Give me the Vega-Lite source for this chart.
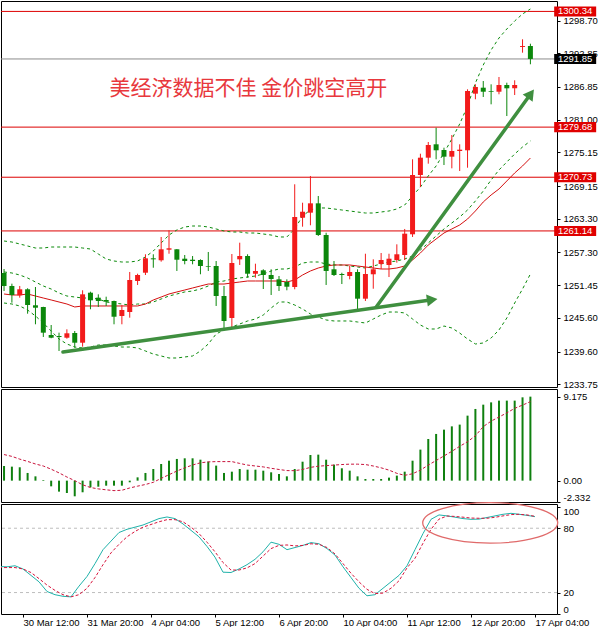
{
  "$schema": "https://vega.github.io/schema/vega-lite/v6.json",
  "padding": 0,
  "autosize": {"type": "pad"},
  "background": "white",
  "bounds": "flush",
  "spacing": 2,
  "datasets": {
    "bars": [
      {"i": -1, "o": 1253.63, "h": 1254.34, "l": 1250.41, "c": 1251.31, "bu": 1259.34, "bm": 1253.81, "bl": 1248.27, "ma": 1249.88, "macd": 1.6, "sig": 2.85, "k": 44.3, "d": 43.3},
      {"i": 0, "o": 1251.31, "h": 1251.72, "l": 1248.33, "c": 1249.70, "bu": 1259.16, "bm": 1253.63, "bl": 1248.09, "ma": 1249.70, "macd": 1.53, "sig": 2.65, "k": 44, "d": 43.3},
      {"i": 1, "o": 1249.65, "h": 1251.31, "l": 1249.22, "c": 1250.72, "bu": 1258.81, "bm": 1253.27, "bl": 1247.74, "ma": 1249.70, "macd": 1.46, "sig": 2.35, "k": 45, "d": 43.3},
      {"i": 2, "o": 1250.72, "h": 1250.90, "l": 1246.36, "c": 1247.91, "bu": 1258.45, "bm": 1252.74, "bl": 1247.02, "ma": 1249.88, "macd": 0.84, "sig": 2.10, "k": 42, "d": 42},
      {"i": 3, "o": 1247.86, "h": 1251.13, "l": 1244.47, "c": 1247.43, "bu": 1258.09, "bm": 1252.02, "bl": 1245.95, "ma": 1249.52, "macd": 0.47, "sig": 1.82, "k": 36, "d": 38.7},
      {"i": 4, "o": 1247.56, "h": 1247.60, "l": 1242.20, "c": 1242.97, "bu": 1258.09, "bm": 1251.31, "bl": 1244.70, "ma": 1249.16, "macd": 0.07, "sig": 1.60, "k": 30, "d": 33},
      {"i": 5, "o": 1242.56, "h": 1244.34, "l": 1241.97, "c": 1242.07, "bu": 1258.27, "bm": 1250.77, "bl": 1243.27, "ma": 1248.81, "macd": -0.62, "sig": 1.25, "k": 21, "d": 27},
      {"i": 6, "o": 1242.38, "h": 1242.97, "l": 1239.70, "c": 1242.20, "bu": 1258.27, "bm": 1250.06, "bl": 1241.84, "ma": 1248.45, "macd": -1.20, "sig": 0.85, "k": 18, "d": 22},
      {"i": 7, "o": 1242.07, "h": 1243.57, "l": 1241.90, "c": 1242.86, "bu": 1258.27, "bm": 1249.52, "bl": 1240.95, "ma": 1248.09, "macd": -1.35, "sig": 0.40, "k": 16.5, "d": 18},
      {"i": 8, "o": 1242.91, "h": 1243.27, "l": 1240.29, "c": 1241.18, "bu": 1258.27, "bm": 1249.34, "bl": 1240.41, "ma": 1247.56, "macd": -1.71, "sig": 0.0, "k": 16, "d": 16},
      {"i": 9, "o": 1241.18, "h": 1250.54, "l": 1240.47, "c": 1249.82, "bu": 1258.09, "bm": 1249.16, "bl": 1240.24, "ma": 1247.74, "macd": -1.27, "sig": -0.45, "k": 26, "d": 18},
      {"i": 10, "o": 1250.11, "h": 1250.29, "l": 1247.15, "c": 1248.75, "bu": 1257.91, "bm": 1249.16, "bl": 1240.41, "ma": 1247.74, "macd": -0.73, "sig": -0.75, "k": 35, "d": 24},
      {"i": 11, "o": 1249.22, "h": 1249.82, "l": 1247.56, "c": 1248.63, "bu": 1257.02, "bm": 1248.99, "bl": 1240.77, "ma": 1247.74, "macd": -0.66, "sig": -0.90, "k": 47, "d": 34},
      {"i": 12, "o": 1248.81, "h": 1249.40, "l": 1247.74, "c": 1248.50, "bu": 1256.13, "bm": 1248.45, "bl": 1240.77, "ma": 1247.74, "macd": -0.55, "sig": -1.00, "k": 60, "d": 46},
      {"i": 13, "o": 1248.63, "h": 1248.70, "l": 1244.47, "c": 1245.82, "bu": 1255.77, "bm": 1248.27, "bl": 1240.59, "ma": 1247.74, "macd": -0.55, "sig": -1.09, "k": 68, "d": 57},
      {"i": 14, "o": 1245.95, "h": 1247.91, "l": 1244.47, "c": 1247.02, "bu": 1255.59, "bm": 1248.09, "bl": 1240.41, "ma": 1247.74, "macd": -0.55, "sig": -1.05, "k": 76, "d": 65},
      {"i": 15, "o": 1246.66, "h": 1253.81, "l": 1245.65, "c": 1252.38, "bu": 1255.59, "bm": 1247.91, "bl": 1240.41, "ma": 1247.74, "macd": -0.18, "sig": -0.80, "k": 79, "d": 72},
      {"i": 16, "o": 1252.20, "h": 1253.50, "l": 1251.49, "c": 1253.27, "bu": 1255.77, "bm": 1248.09, "bl": 1240.24, "ma": 1247.74, "macd": 0.36, "sig": -0.60, "k": 81, "d": 77},
      {"i": 17, "o": 1253.68, "h": 1256.97, "l": 1253.27, "c": 1256.25, "bu": 1256.49, "bm": 1248.09, "bl": 1239.70, "ma": 1248.09, "macd": 0.84, "sig": -0.42, "k": 83, "d": 81},
      {"i": 18, "o": 1256.25, "h": 1256.97, "l": 1254.57, "c": 1256.07, "bu": 1257.56, "bm": 1248.45, "bl": 1239.16, "ma": 1248.81, "macd": 1.27, "sig": -0.18, "k": 86, "d": 83.5},
      {"i": 19, "o": 1255.90, "h": 1260.06, "l": 1255.65, "c": 1257.86, "bu": 1258.99, "bm": 1248.99, "bl": 1238.81, "ma": 1249.34, "macd": 1.82, "sig": 0.25, "k": 89, "d": 86},
      {"i": 20, "o": 1257.79, "h": 1261.25, "l": 1257.07, "c": 1258.04, "bu": 1260.41, "bm": 1249.52, "bl": 1238.45, "ma": 1249.88, "macd": 2.18, "sig": 0.65, "k": 90.5, "d": 88},
      {"i": 21, "o": 1257.86, "h": 1257.90, "l": 1253.99, "c": 1256.00, "bu": 1261.31, "bm": 1249.88, "bl": 1238.45, "ma": 1250.24, "macd": 2.37, "sig": 1.05, "k": 89, "d": 88},
      {"i": 22, "o": 1256.18, "h": 1256.84, "l": 1255.18, "c": 1255.77, "bu": 1261.84, "bm": 1250.24, "bl": 1238.63, "ma": 1250.59, "macd": 2.44, "sig": 1.40, "k": 84, "d": 86},
      {"i": 23, "o": 1256.00, "h": 1256.66, "l": 1255.18, "c": 1255.77, "bu": 1262.02, "bm": 1250.41, "bl": 1238.81, "ma": 1250.95, "macd": 2.44, "sig": 1.71, "k": 78, "d": 81},
      {"i": 24, "o": 1255.95, "h": 1256.07, "l": 1253.40, "c": 1254.88, "bu": 1262.02, "bm": 1250.77, "bl": 1239.70, "ma": 1251.31, "macd": 2.29, "sig": 1.95, "k": 72, "d": 75},
      {"i": 25, "o": 1254.82, "h": 1257.38, "l": 1253.99, "c": 1254.70, "bu": 1261.84, "bm": 1251.31, "bl": 1240.95, "ma": 1251.66, "macd": 2.08, "sig": 2.05, "k": 63, "d": 67},
      {"i": 26, "o": 1254.88, "h": 1255.77, "l": 1247.74, "c": 1249.52, "bu": 1261.49, "bm": 1252.02, "bl": 1242.74, "ma": 1251.66, "macd": 1.64, "sig": 2.08, "k": 53, "d": 58},
      {"i": 27, "o": 1249.52, "h": 1251.31, "l": 1243.63, "c": 1245.06, "bu": 1261.13, "bm": 1252.20, "bl": 1243.45, "ma": 1251.66, "macd": 0.84, "sig": 2.08, "k": 39, "d": 48},
      {"i": 28, "o": 1245.59, "h": 1257.02, "l": 1243.81, "c": 1255.41, "bu": 1260.95, "bm": 1252.56, "bl": 1243.99, "ma": 1251.84, "macd": 0.98, "sig": 2.08, "k": 38.7, "d": 41},
      {"i": 29, "o": 1256.07, "h": 1259.04, "l": 1255.06, "c": 1256.66, "bu": 1260.95, "bm": 1252.74, "bl": 1244.52, "ma": 1252.02, "macd": 1.27, "sig": 1.88, "k": 42, "d": 41},
      {"i": 30, "o": 1256.66, "h": 1256.97, "l": 1252.79, "c": 1253.50, "bu": 1260.77, "bm": 1252.91, "bl": 1245.06, "ma": 1252.20, "macd": 1.20, "sig": 1.70, "k": 46, "d": 43},
      {"i": 31, "o": 1253.50, "h": 1255.29, "l": 1252.79, "c": 1253.99, "bu": 1260.77, "bm": 1253.09, "bl": 1245.41, "ma": 1252.20, "macd": 1.20, "sig": 1.60, "k": 51, "d": 47},
      {"i": 32, "o": 1254.11, "h": 1254.29, "l": 1250.77, "c": 1253.27, "bu": 1260.59, "bm": 1253.45, "bl": 1246.13, "ma": 1252.20, "macd": 1.09, "sig": 1.50, "k": 58, "d": 54},
      {"i": 33, "o": 1253.27, "h": 1254.29, "l": 1249.70, "c": 1252.56, "bu": 1260.41, "bm": 1253.99, "bl": 1247.38, "ma": 1252.20, "macd": 0.91, "sig": 1.35, "k": 67, "d": 61},
      {"i": 34, "o": 1252.50, "h": 1253.09, "l": 1250.41, "c": 1251.31, "bu": 1260.06, "bm": 1254.34, "bl": 1248.45, "ma": 1252.20, "macd": 0.73, "sig": 1.22, "k": 65, "d": 64},
      {"i": 35, "o": 1252.02, "h": 1252.50, "l": 1250.54, "c": 1251.18, "bu": 1260.06, "bm": 1254.34, "bl": 1248.45, "ma": 1252.02, "macd": 0.47, "sig": 1.10, "k": 60, "d": 64.4},
      {"i": 36, "o": 1251.13, "h": 1269.47, "l": 1250.72, "c": 1263.63, "bu": 1261.49, "bm": 1254.70, "bl": 1247.91, "ma": 1252.38, "macd": 1.27, "sig": 1.09, "k": 62, "d": 63.5},
      {"i": 37, "o": 1263.50, "h": 1266.18, "l": 1261.90, "c": 1264.57, "bu": 1263.81, "bm": 1255.41, "bl": 1247.20, "ma": 1253.27, "macd": 2.07, "sig": 1.22, "k": 64, "d": 64},
      {"i": 38, "o": 1264.40, "h": 1270.95, "l": 1262.15, "c": 1266.07, "bu": 1264.88, "bm": 1255.59, "bl": 1246.31, "ma": 1253.99, "macd": 2.80, "sig": 1.45, "k": 66.6, "d": 65.5},
      {"i": 39, "o": 1266.07, "h": 1267.38, "l": 1260.24, "c": 1260.41, "bu": 1265.24, "bm": 1255.59, "bl": 1245.77, "ma": 1254.52, "macd": 2.84, "sig": 1.58, "k": 65.5, "d": 65},
      {"i": 40, "o": 1260.41, "h": 1260.82, "l": 1251.49, "c": 1253.99, "bu": 1265.24, "bm": 1255.24, "bl": 1245.24, "ma": 1254.88, "macd": 2.29, "sig": 1.64, "k": 61, "d": 62},
      {"i": 41, "o": 1254.29, "h": 1255.77, "l": 1253.09, "c": 1253.27, "bu": 1265.06, "bm": 1255.06, "bl": 1245.06, "ma": 1255.06, "macd": 1.75, "sig": 1.70, "k": 55, "d": 56},
      {"i": 42, "o": 1253.45, "h": 1253.68, "l": 1251.66, "c": 1253.27, "bu": 1264.88, "bm": 1255.06, "bl": 1245.06, "ma": 1255.06, "macd": 1.35, "sig": 1.76, "k": 44, "d": 47},
      {"i": 43, "o": 1253.09, "h": 1254.88, "l": 1252.50, "c": 1253.81, "bu": 1264.70, "bm": 1254.88, "bl": 1245.06, "ma": 1255.06, "macd": 1.09, "sig": 1.80, "k": 34, "d": 38},
      {"i": 44, "o": 1253.81, "h": 1254.29, "l": 1247.15, "c": 1249.04, "bu": 1264.52, "bm": 1254.70, "bl": 1244.88, "ma": 1254.88, "macd": 0.47, "sig": 1.80, "k": 24, "d": 30},
      {"i": 45, "o": 1249.04, "h": 1257.07, "l": 1248.63, "c": 1253.45, "bu": 1264.34, "bm": 1254.52, "bl": 1244.70, "ma": 1254.70, "macd": 0.18, "sig": 1.76, "k": 17, "d": 23},
      {"i": 46, "o": 1253.40, "h": 1256.07, "l": 1250.82, "c": 1254.29, "bu": 1264.34, "bm": 1254.88, "bl": 1245.41, "ma": 1254.52, "macd": 0.18, "sig": 1.60, "k": 18, "d": 19},
      {"i": 47, "o": 1255.24, "h": 1257.20, "l": 1254.34, "c": 1255.95, "bu": 1264.52, "bm": 1255.24, "bl": 1246.13, "ma": 1254.34, "macd": 0.18, "sig": 1.40, "k": 24, "d": 19.5},
      {"i": 48, "o": 1255.06, "h": 1257.07, "l": 1252.91, "c": 1256.18, "bu": 1264.70, "bm": 1255.59, "bl": 1246.66, "ma": 1254.34, "macd": 0.33, "sig": 1.15, "k": 30, "d": 24},
      {"i": 49, "o": 1255.95, "h": 1258.75, "l": 1255.47, "c": 1256.97, "bu": 1265.06, "bm": 1255.77, "bl": 1246.66, "ma": 1254.52, "macd": 0.55, "sig": 0.80, "k": 36, "d": 31},
      {"i": 50, "o": 1256.84, "h": 1261.49, "l": 1255.95, "c": 1260.65, "bu": 1265.77, "bm": 1256.13, "bl": 1246.49, "ma": 1254.88, "macd": 0.98, "sig": 0.58, "k": 45, "d": 43},
      {"i": 51, "o": 1260.54, "h": 1273.93, "l": 1260.06, "c": 1271.13, "bu": 1267.38, "bm": 1256.66, "bl": 1245.41, "ma": 1255.95, "macd": 2.18, "sig": 0.75, "k": 60, "d": 52},
      {"i": 52, "o": 1271.13, "h": 1274.93, "l": 1268.99, "c": 1274.22, "bu": 1268.99, "bm": 1257.74, "bl": 1244.34, "ma": 1257.20, "macd": 3.39, "sig": 1.15, "k": 75, "d": 66},
      {"i": 53, "o": 1274.22, "h": 1277.02, "l": 1273.15, "c": 1276.49, "bu": 1270.95, "bm": 1258.99, "bl": 1243.63, "ma": 1258.63, "macd": 4.55, "sig": 1.70, "k": 88.3, "d": 79},
      {"i": 54, "o": 1276.61, "h": 1279.57, "l": 1273.93, "c": 1275.54, "bu": 1272.74, "bm": 1260.24, "bl": 1243.63, "ma": 1259.70, "macd": 5.10, "sig": 2.20, "k": 92.4, "d": 88.5},
      {"i": 55, "o": 1275.59, "h": 1276.00, "l": 1272.91, "c": 1274.40, "bu": 1275.06, "bm": 1261.49, "bl": 1244.16, "ma": 1260.77, "macd": 5.57, "sig": 2.70, "k": 91.5, "d": 91.4},
      {"i": 56, "o": 1274.40, "h": 1278.27, "l": 1272.32, "c": 1275.41, "bu": 1277.56, "bm": 1262.56, "bl": 1243.81, "ma": 1261.49, "macd": 5.93, "sig": 3.20, "k": 90.3, "d": 91},
      {"i": 57, "o": 1275.41, "h": 1276.61, "l": 1271.84, "c": 1275.65, "bu": 1280.24, "bm": 1263.63, "bl": 1242.91, "ma": 1262.20, "macd": 6.12, "sig": 3.75, "k": 89, "d": 90.3},
      {"i": 58, "o": 1275.54, "h": 1286.43, "l": 1272.43, "c": 1286.13, "bu": 1283.45, "bm": 1264.88, "bl": 1241.84, "ma": 1263.27, "macd": 7.10, "sig": 4.25, "k": 88.3, "d": 89.5},
      {"i": 59, "o": 1285.65, "h": 1287.32, "l": 1284.65, "c": 1286.84, "bu": 1287.56, "bm": 1266.49, "bl": 1240.95, "ma": 1264.70, "macd": 7.83, "sig": 4.90, "k": 88.5, "d": 89.3},
      {"i": 60, "o": 1286.72, "h": 1287.91, "l": 1285.06, "c": 1286.00, "bu": 1290.77, "bm": 1268.27, "bl": 1241.13, "ma": 1266.31, "macd": 8.30, "sig": 5.90, "k": 90, "d": 89.3},
      {"i": 61, "o": 1286.13, "h": 1287.32, "l": 1283.75, "c": 1286.00, "bu": 1293.45, "bm": 1270.24, "bl": 1242.02, "ma": 1267.56, "macd": 8.55, "sig": 6.50, "k": 91.5, "d": 90.2},
      {"i": 62, "o": 1286.00, "h": 1288.63, "l": 1285.54, "c": 1287.20, "bu": 1295.59, "bm": 1272.02, "bl": 1243.45, "ma": 1268.63, "macd": 8.74, "sig": 6.95, "k": 93, "d": 91.5},
      {"i": 63, "o": 1287.20, "h": 1287.61, "l": 1281.66, "c": 1286.61, "bu": 1297.20, "bm": 1273.45, "bl": 1245.59, "ma": 1270.06, "macd": 8.74, "sig": 7.40, "k": 93.9, "d": 92.7},
      {"i": 64, "o": 1286.61, "h": 1288.04, "l": 1285.41, "c": 1287.20, "bu": 1298.63, "bm": 1274.88, "bl": 1248.27, "ma": 1271.49, "macd": 8.74, "sig": 7.90, "k": 93, "d": 93},
      {"i": 65, "o": 1293.99, "h": 1295.36, "l": 1292.97, "c": 1294.16, "bu": 1299.88, "bm": 1276.13, "bl": 1250.77, "ma": 1272.74, "macd": 9.10, "sig": 8.25, "k": 92, "d": 92.4},
      {"i": 66, "o": 1294.16, "h": 1294.57, "l": 1290.90, "c": 1291.85, "bu": 1300.77, "bm": 1277.20, "bl": 1253.45, "ma": 1274.16, "macd": 9.175, "sig": 8.63, "k": 90.8, "d": 91.1}
    ],
    "levels": [
      {"p": 1300.34, "cur": false},
      {"p": 1291.85, "cur": true},
      {"p": 1279.68, "cur": false},
      {"p": 1270.73, "cur": false},
      {"p": 1261.14, "cur": false}
    ],
    "arrows": [
      {"i": 6.5, "p": 1239.52, "i2": 53.5, "p2": 1248.84},
      {"i": 46.375, "p": 1247.56, "i2": 66.05, "p2": 1285.63}
    ],
    "stlev": [{"v": 80}, {"v": 20}]
  },
  "vconcat": [
    {
      "width": 556,
      "height": 386,
      "layer": [
        {
          "data": {"name": "levels"},
          "mark": {"type": "rule", "strokeWidth": 1},
          "encoding": {
            "y": {
              "field": "p", "type": "quantitative", "title": null,
              "scale": {"domain": [1233.27, 1302.2], "nice": false, "zero": false},
              "axis": {
                "orient": "right",
                "values": [1298.70, 1292.85, 1286.85, 1281.00, 1275.15, 1269.15, 1263.30, 1257.30, 1251.45, 1245.60, 1239.60, 1233.75],
                "tickCount": 30,
                "format": ".2f", "tickSize": 3, "labelPadding": 3,
                "labelOverlap": false, "labelBound": false, "labelFlush": false
              }
            },
            "color": {"condition": {"test": "datum.cur", "value": "#8c8c8c"}, "value": "#dd0000"}
          }
        },
        {
          "data": {"name": "bars"},
          "encoding": {
            "x": {"field": "i", "type": "quantitative", "axis": null,
                  "scale": {"domain": [-0.75, 68.75], "nice": false, "zero": false}}
          },
          "layer": [
            {"mark": {"type": "line", "clip": true, "strokeWidth": 1, "strokeDash": [3, 3], "color": "#0b8a0b"},
             "encoding": {"y": {"field": "bu", "type": "quantitative", "title": null}}},
            {"mark": {"type": "line", "clip": true, "strokeWidth": 1, "strokeDash": [3, 3], "color": "#0b8a0b"},
             "encoding": {"y": {"field": "bm", "type": "quantitative", "title": null}}},
            {"mark": {"type": "line", "clip": true, "strokeWidth": 1, "strokeDash": [3, 3], "color": "#0b8a0b"},
             "encoding": {"y": {"field": "bl", "type": "quantitative", "title": null}}},
            {"mark": {"type": "line", "clip": true, "strokeWidth": 1, "color": "#d41010"},
             "encoding": {"y": {"field": "ma", "type": "quantitative", "title": null}}},
            {"mark": {"type": "rule", "clip": true, "strokeWidth": 1},
             "encoding": {
               "y": {"field": "l", "type": "quantitative", "title": null},
               "y2": {"field": "h"},
               "color": {"condition": {"test": "datum.c >= datum.o", "value": "#f21b1b"}, "value": "#0b870b"}
             }},
            {"mark": {"type": "bar", "clip": true, "width": 5},
             "encoding": {
               "y": {"field": "o", "type": "quantitative", "title": null},
               "y2": {"field": "c"},
               "color": {"condition": {"test": "datum.c >= datum.o", "value": "#f21b1b"}, "value": "#0b870b"}
             }}
          ]
        },
        {
          "data": {"name": "arrows"},
          "mark": {"type": "rule", "strokeWidth": 3.5, "color": "#3f8f3f", "strokeCap": "round"},
          "encoding": {
            "x": {"field": "i", "type": "quantitative"},
            "x2": {"field": "i2"},
            "y": {"field": "p", "type": "quantitative", "title": null},
            "y2": {"field": "p2"}
          }
        },
        {
          "data": {"values": [{"i": 53.5, "p": 1248.84}]},
          "mark": {"type": "point", "shape": "triangle-right", "filled": true, "opacity": 1, "size": 150, "angle": 352, "color": "#3f8f3f"},
          "encoding": {
            "x": {"field": "i", "type": "quantitative"},
            "y": {"field": "p", "type": "quantitative", "title": null}
          }
        },
        {
          "data": {"values": [{"i": 66.05, "p": 1285.63}]},
          "mark": {"type": "point", "shape": "triangle-right", "filled": true, "opacity": 1, "size": 150, "angle": 306, "color": "#3f8f3f"},
          "encoding": {
            "x": {"field": "i", "type": "quantitative"},
            "y": {"field": "p", "type": "quantitative", "title": null}
          }
        },
        {
          "data": {"values": [{"i": 30.1, "p": 1286.49, "t": "美经济数据不佳 金价跳空高开"}]},
          "mark": {"type": "text", "font": "Noto Sans CJK SC", "fontSize": 21, "color": "#e8383d", "align": "center", "baseline": "middle"},
          "encoding": {
            "x": {"field": "i", "type": "quantitative"},
            "y": {"field": "p", "type": "quantitative", "title": null},
            "text": {"field": "t"}
          }
        },
        {
          "data": {"name": "levels"},
          "mark": {"type": "point", "shape": "M -1 -0.24 L 1 -0.24 L 1 0.24 L -1 0.24 Z", "size": 1764, "filled": true, "opacity": 1, "strokeWidth": 0},
          "encoding": {
            "x": {"datum": 71.7, "type": "quantitative"},
            "y": {"field": "p", "type": "quantitative", "title": null},
            "color": {"condition": {"test": "datum.cur", "value": "#000000"}, "value": "#e00000"}
          }
        },
        {
          "data": {"name": "levels"},
          "mark": {"type": "text", "font": "Liberation Sans", "fontSize": 9.5, "color": "#ffffff", "align": "center", "baseline": "middle"},
          "encoding": {
            "x": {"datum": 71.7, "type": "quantitative"},
            "y": {"field": "p", "type": "quantitative", "title": null},
            "text": {"field": "p", "type": "quantitative", "format": ".2f"}
          }
        }
      ]
    },
    {
      "width": 556,
      "height": 113,
      "data": {"name": "bars"},
      "encoding": {
        "x": {"field": "i", "type": "quantitative", "axis": null,
              "scale": {"domain": [-0.75, 68.75], "nice": false, "zero": false}}
      },
      "layer": [
        {
          "mark": {"type": "bar", "clip": true, "width": 2, "color": "#0f800f"},
          "encoding": {
            "y": {
              "field": "macd", "type": "quantitative", "title": null,
              "scale": {"domain": [-2.332, 10.01], "nice": false, "zero": false},
              "axis": {
                "orient": "right", "values": [9.175, 0, -2.332], "tickCount": 10, "tickSize": 3, "labelPadding": 3,
                "labelOverlap": false,
                "labelExpr": "datum.value == 0 ? '0.00' : (datum.value < 0 ? '-2.332' : '9.175')",
                "labelBaseline": {"condition": {"test": "datum.value < 0", "value": "bottom"}, "value": "middle"}
              }
            },
            "y2": {"datum": 0}
          }
        },
        {
          "mark": {"type": "line", "clip": true, "strokeWidth": 1, "strokeDash": [3, 2], "color": "#c8143c"},
          "encoding": {"y": {"field": "sig", "type": "quantitative", "title": null}}
        }
      ]
    },
    {
      "width": 556,
      "height": 110,
      "layer": [
        {
          "data": {"name": "stlev"},
          "mark": {"type": "rule", "strokeWidth": 1, "strokeDash": [3, 3], "color": "#bdbdbd"},
          "encoding": {
            "y": {
              "field": "v", "type": "quantitative", "title": null,
              "scale": {"domain": [0, 102.6], "nice": false, "zero": false},
              "axis": {
                "orient": "right", "values": [100, 80, 20, 0], "tickCount": 10, "tickSize": 3, "labelPadding": 3,
                "labelOverlap": false,
                "labelBaseline": {"condition": [{"test": "datum.value == 100", "value": "top"}, {"test": "datum.value == 0", "value": "bottom"}], "value": "middle"}
              }
            }
          }
        },
        {
          "data": {"name": "bars"},
          "encoding": {
            "x": {
              "field": "i", "type": "quantitative", "title": null,
              "scale": {"domain": [-0.75, 68.75], "nice": false, "zero": false},
              "axis": {
                "values": [2, 10, 18, 26, 34, 42, 50, 58, 66],
                "tickCount": 20,
                "labelExpr": "['30 Mar 12:00','31 Mar 20:00','4 Apr 04:00','5 Apr 12:00','6 Apr 20:00','10 Apr 04:00','11 Apr 12:00','12 Apr 20:00','17 Apr 04:00'][(datum.value - 2) / 8]",
                "labelAlign": "left", "labelBaseline": "top", "labelPadding": 0, "tickSize": 3,
                "labelOverlap": false, "labelFlush": false, "labelBound": false
              }
            }
          },
          "layer": [
            {"mark": {"type": "line", "clip": true, "strokeWidth": 1, "color": "#20b2aa"},
             "encoding": {"y": {"field": "k", "type": "quantitative", "title": null}}},
            {"mark": {"type": "line", "clip": true, "strokeWidth": 1, "strokeDash": [3, 2], "color": "#d8143c"},
             "encoding": {"y": {"field": "d", "type": "quantitative", "title": null}}}
          ]
        },
        {
          "data": {"values": [{"i": 60.4, "v": 85}]},
          "mark": {"type": "point", "shape": "M -1 0 A 1 0.3 0 1 1 1 0 A 1 0.3 0 1 1 -1 0 Z", "size": 18225, "filled": false, "strokeWidth": 1.3, "color": "#e06a6a", "opacity": 1},
          "encoding": {
            "x": {"field": "i", "type": "quantitative"},
            "y": {"field": "v", "type": "quantitative", "title": null}
          }
        }
      ]
    }
  ],
  "config": {
    "view": {"stroke": "#000000", "strokeWidth": 1},
    "axis": {
      "labelFont": "Liberation Sans", "labelFontSize": 9.5, "labelColor": "#000000",
      "tickColor": "#000000", "domain": false, "grid": false, "labelOverlap": false
    }
  }
}
